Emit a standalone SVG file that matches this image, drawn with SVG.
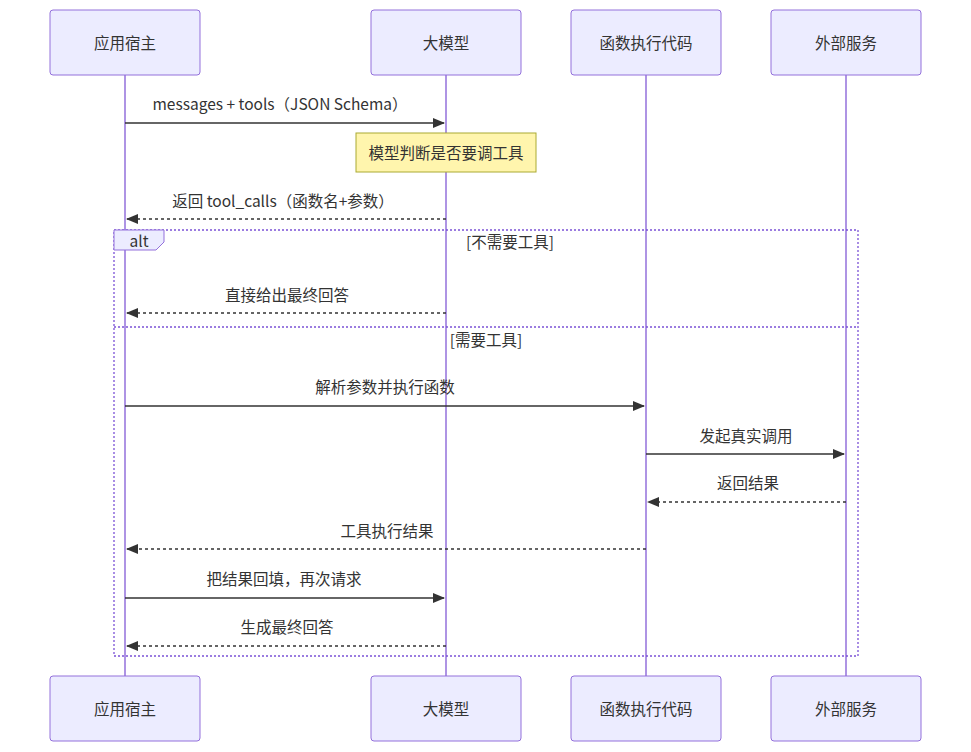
<svg xmlns="http://www.w3.org/2000/svg" width="971" height="752" viewBox="0 0 971 752">
<style>
text{font-family:"Noto Sans CJK SC","Noto Sans",sans-serif;font-size:15.5px;fill:#333;text-anchor:middle;dominant-baseline:central}
.actor{fill:#ECECFF;stroke:#9370DB;stroke-width:1}
.life{stroke:#9370DB;stroke-width:1.5}
.msg{stroke:#333;stroke-width:1.5;fill:none}
.dash{stroke-dasharray:3,3}
.loop{stroke:#7B52D6;stroke-width:1.3;fill:none;stroke-dasharray:2,2}
</style>
<defs>
<marker id="ah" viewBox="0 0 12 10" refX="11" refY="5" markerWidth="12" markerHeight="10" markerUnits="userSpaceOnUse" orient="auto"><path d="M0,0L12,5L0,10z" fill="#333"/></marker>
</defs>
<g id="lifelines">
<line class="life" x1="125" y1="75" x2="125" y2="676"/>
<line class="life" x1="446" y1="75" x2="446" y2="676"/>
<line class="life" x1="646" y1="75" x2="646" y2="676"/>
<line class="life" x1="846" y1="75" x2="846" y2="676"/>
</g>
<g id="p1"><rect class="actor" x="50" y="10" width="150" height="65" rx="3"/><text x="125" y="42">应用宿主</text><rect class="actor" x="50" y="676" width="150" height="65" rx="3"/><text x="125" y="708">应用宿主</text></g>
<g id="p2"><rect class="actor" x="371" y="10" width="150" height="65" rx="3"/><text x="446" y="42">大模型</text><rect class="actor" x="371" y="676" width="150" height="65" rx="3"/><text x="446" y="708">大模型</text></g>
<g id="p3"><rect class="actor" x="571" y="10" width="150" height="65" rx="3"/><text x="646" y="42">函数执行代码</text><rect class="actor" x="571" y="676" width="150" height="65" rx="3"/><text x="646" y="708">函数执行代码</text></g>
<g id="p4"><rect class="actor" x="771" y="10" width="150" height="65" rx="3"/><text x="846" y="42">外部服务</text><rect class="actor" x="771" y="676" width="150" height="65" rx="3"/><text x="846" y="708">外部服务</text></g>
<g id="note"><rect x="356" y="133" width="180" height="39" fill="#fff5ad" stroke="#aaaa33"/><text x="446" y="152">模型判断是否要调工具</text></g>
<g id="alt">
<rect class="loop" x="114" y="230" width="744" height="426"/>
<path d="M114,230H164V242L156,250H114Z" fill="#ECECFF" stroke="#9370DB"/>
<text x="139" y="240">alt</text>
<text x="510" y="241">[不需要工具]</text>
<line class="loop" x1="114" y1="327" x2="858" y2="327" stroke-dasharray="4,3"/>
<text x="486" y="339">[需要工具]</text>
</g>
<g id="connectors">
<line class="msg" x1="125" y1="123" x2="444" y2="123" marker-end="url(#ah)"/><text x="280" y="103">messages + tools（JSON Schema）</text>
<line class="msg dash" x1="446" y1="219" x2="127" y2="219" marker-end="url(#ah)"/><text x="283" y="200">返回 tool_calls（函数名+参数）</text>
<line class="msg dash" x1="446" y1="313" x2="127" y2="313" marker-end="url(#ah)"/><text x="287" y="294">直接给出最终回答</text>
<line class="msg" x1="125" y1="406" x2="644" y2="406" marker-end="url(#ah)"/><text x="385" y="386">解析参数并执行函数</text>
<line class="msg" x1="646" y1="454" x2="844" y2="454" marker-end="url(#ah)"/><text x="746" y="435">发起真实调用</text>
<line class="msg dash" x1="846" y1="502" x2="648" y2="502" marker-end="url(#ah)"/><text x="748" y="482">返回结果</text>
<line class="msg dash" x1="646" y1="549" x2="127" y2="549" marker-end="url(#ah)"/><text x="387" y="530">工具执行结果</text>
<line class="msg" x1="125" y1="598" x2="444" y2="598" marker-end="url(#ah)"/><text x="284" y="578">把结果回填，再次请求</text>
<line class="msg dash" x1="446" y1="646" x2="127" y2="646" marker-end="url(#ah)"/><text x="287" y="626">生成最终回答</text>
</g>
</svg>
